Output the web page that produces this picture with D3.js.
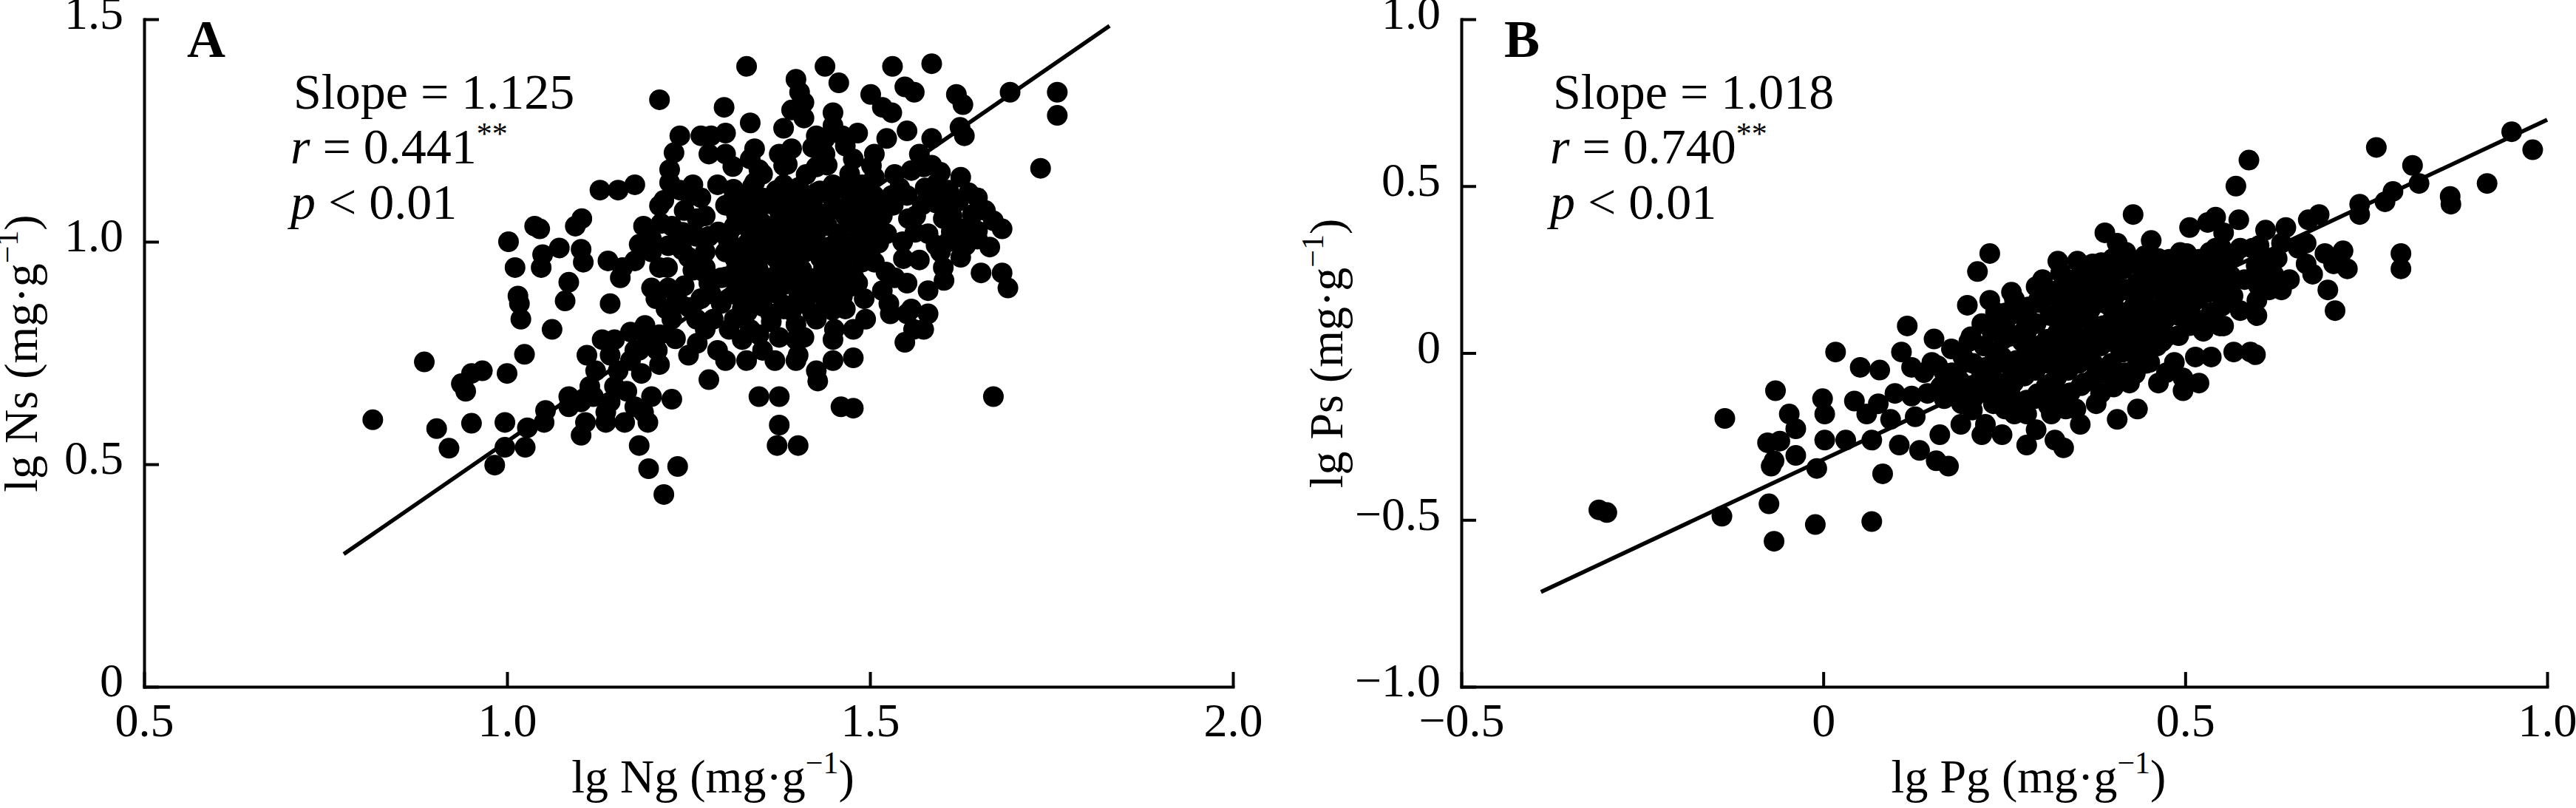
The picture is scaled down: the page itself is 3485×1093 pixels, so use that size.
<!DOCTYPE html>
<html>
<head>
<meta charset="utf-8">
<script src="https://cdn.jsdelivr.net/npm/d3@7"></script>
<style>
  body { margin: 0; background: #fff; }
  text { font-family: "Liberation Serif", "Times New Roman", serif; fill: #000; }
</style>
</head>
<body>
<script>
// Panel A: lg Ng (x) vs lg Ns (y)
const pointsA = [
  [0.815,0.60],[0.886,0.73],[0.903,0.58],[0.920,0.536],[0.937,0.681],[0.943,0.664],[0.951,0.704],[0.966,0.71],
  [0.951,0.592],[0.983,0.498],[0.997,0.594],[0.997,0.538],[1.000,0.704],[1.002,1.000],[1.011,0.942],[1.015,0.878],
  [1.017,0.861],[1.019,0.826],[1.024,0.747],[1.025,0.538],[1.028,0.582],[1.038,1.035],[1.045,1.029],[1.049,0.971],
  [1.047,0.942],[1.051,0.594],[1.053,0.621],[1.062,0.803],[1.072,0.986],[1.080,0.867],[1.085,0.909],[1.085,0.629],
  [1.094,1.035],[1.103,1.052],[1.102,0.983],[1.105,0.954],[1.102,0.565],[1.108,0.594],[1.110,0.745],[1.114,0.675],
  [1.122,0.710],[1.128,1.116],[1.136,0.594],[1.139,0.957],[1.142,0.861],[1.131,0.780],[1.142,0.745],[1.148,0.675],
  [1.153,1.116],[1.159,0.942],[1.156,0.919],[1.162,0.594],[1.170,0.733],[1.176,0.756],[1.170,0.797],[1.176,1.128],
  [1.182,0.542],[1.185,0.704],[1.188,1.035],[1.190,0.812],[1.194,0.594],[1.195,0.490],[1.199,0.652],[1.207,0.756],
  [1.210,1.319],[1.210,0.724],[1.216,0.432],[1.219,0.849],[1.224,1.162],[1.224,1.133],[1.227,0.646],[1.230,1.200],
  [1.235,0.495],[1.238,1.238],[1.244,1.070],[1.250,0.745],[1.256,1.128],[1.267,1.238],[1.273,0.942],[1.278,0.690],
  [1.281,1.238],[1.290,1.128],[1.299,1.302],[1.301,1.197],[1.306,0.803],[1.311,1.169],[1.330,1.394],[1.335,1.267],
  [1.341,1.209],[1.341,1.133],[1.347,0.652],[1.352,0.756],[1.375,0.652],[1.375,0.588],[1.372,0.542],[1.401,0.542],
  [1.398,1.365],[1.403,1.336],[1.409,1.313],[1.392,1.296],[1.438,1.394],[1.457,1.357],[1.426,1.238],[1.449,1.261],
  [1.501,1.331],[1.517,1.302],[1.531,1.394],[1.530,1.290],[1.548,1.348],[1.561,1.336],[1.585,1.400],[1.619,1.331],
  [1.628,1.308],[1.693,1.336],[1.758,1.336],[1.758,1.284],[1.735,1.165],[1.670,0.652],[1.653,0.930],[1.682,0.930],
  [1.690,0.896],[1.682,1.029],[1.665,0.988],[1.624,1.257],[1.630,1.238],[1.602,0.913],[1.580,0.838],[1.574,0.803],
  [1.557,0.849],[1.548,0.774],[1.560,0.803],[1.526,0.861],[1.506,0.954],[1.492,0.872],[1.477,0.803],[1.477,0.739],
  [1.460,0.629],[1.477,0.626],[1.451,0.803],[1.426,0.710],[1.428,0.687],[1.401,0.745],[1.398,0.733],[1.375,0.785],
  [1.409,0.785],[1.483,1.087],[1.534,1.151],[1.551,1.249],[1.585,1.232],[1.591,1.087],[1.597,1.156],[1.608,1.116],
  [1.625,1.145],[1.636,1.110],[1.648,1.099],[1.659,1.070],[1.670,1.047],[1.648,1.006],[1.625,0.965],[1.597,0.977],
  [1.580,1.018],[1.563,1.058],[1.551,1.104],[1.545,1.000],[1.517,1.058],[1.534,0.919],[1.551,0.907],[1.580,0.890],
  [1.517,0.890],[1.506,1.018],[1.494,1.058],[1.477,1.186],[1.466,1.215],[1.483,1.244],[1.506,1.197],[1.523,1.232],
  [1.568,1.197],[1.574,1.168],[1.449,1.290],[1.438,1.232],[1.392,1.209],[1.386,1.174],[1.426,1.168],[1.381,1.128],
  [1.358,1.093],[1.426,1.110],[1.449,1.128],[1.460,1.070],[1.438,1.052],[1.409,1.035],[1.386,1.012],[1.358,1.035],
  [1.341,1.012],[1.324,1.058],[1.313,1.104],[1.313,1.035],[1.301,0.977],[1.295,0.919],[1.318,0.942],[1.347,0.965],
  [1.375,0.959],[1.398,0.977],[1.420,0.988],[1.443,0.988],[1.460,0.965],[1.477,1.000],[1.489,0.954],[1.454,0.919],
  [1.432,0.913],[1.409,0.913],[1.386,0.907],[1.364,0.913],[1.341,0.896],[1.318,0.884],[1.295,0.861],[1.324,0.849],
  [1.352,0.855],[1.381,0.849],[1.409,0.861],[1.438,0.872],[1.460,0.878],[1.426,0.826],[1.398,0.814],[1.364,0.820],
  [1.335,0.803],[1.313,0.826],[1.284,0.826],[1.267,0.872],[1.273,0.803],[1.290,0.756],[1.301,0.733],[1.324,0.780],
  [1.330,0.733],[1.261,0.826],[1.244,0.901],[1.238,0.861],[1.222,0.896],[1.210,0.942],[1.233,1.000],[1.227,1.035],
  [1.210,1.081],[1.199,1.006],[1.182,0.994],[1.176,0.957],[1.199,0.977],[1.216,1.093],[1.238,1.116],[1.267,1.099],
  [1.273,1.058],[1.278,1.012],[1.261,1.012],[1.250,0.965],[1.273,0.977],[1.256,0.936],[1.278,0.907],[1.199,0.896],
  [1.205,0.872],[1.227,0.826],[1.188,0.797],[1.199,0.780],[1.182,0.756],[1.210,0.791],[1.153,0.710],[1.165,0.664],
  [1.142,0.640],[1.119,0.652],[1.102,0.640],[1.085,0.652],[1.176,0.629],[1.188,0.617],[1.136,0.617],[1.148,0.780],
  [1.278,1.197],[1.301,1.244],[1.347,1.162],[1.335,1.186],[1.375,1.197],[1.381,1.255],[1.409,1.278],[1.438,1.197],
  [1.392,1.081],[1.409,1.070],[1.489,1.128],[1.506,1.145],[1.530,1.104],[1.523,1.018],[1.568,0.959],[1.608,1.000],
  [1.630,1.029],[1.613,1.058],[1.551,0.838],[1.528,0.838],[1.494,0.826],[1.466,0.849],[1.483,0.907],[1.449,0.733],
  [1.449,0.780],[1.398,0.780],[1.369,0.733],[1.347,0.791],[1.585,1.172],[1.557,1.160],
  // dense core
  [1.312,1.118],[1.338,1.124],[1.371,1.115],[1.402,1.122],[1.431,1.114],[1.462,1.121],[1.493,1.112],
  [1.301,1.082],[1.333,1.076],[1.362,1.085],[1.391,1.079],[1.421,1.083],[1.452,1.077],[1.478,1.085],[1.511,1.079],
  [1.322,1.041],[1.349,1.046],[1.383,1.038],[1.412,1.044],[1.441,1.036],[1.472,1.043],[1.503,1.038],
  [1.305,1.002],[1.331,0.996],[1.364,1.004],[1.393,0.998],[1.418,1.003],[1.452,0.995],[1.483,1.002],[1.512,0.997],
  [1.314,0.962],[1.342,0.957],[1.369,0.965],[1.401,0.958],[1.432,0.963],[1.458,0.956],[1.492,0.962],
  [1.302,0.921],[1.333,0.926],[1.362,0.918],[1.392,0.924],[1.421,0.917],[1.451,0.925],[1.478,0.919],
  [1.313,0.882],[1.342,0.876],[1.371,0.884],[1.402,0.878],[1.433,0.883],[1.462,0.877],
  [1.331,0.842],[1.363,0.838],[1.392,0.845],[1.421,0.839],[1.448,0.846],
  [1.541,1.121],[1.572,1.083],[1.601,1.052],[1.622,1.091],[1.648,1.024],[1.592,1.131],[1.553,1.052],[1.632,0.992],
  [1.212,1.041],[1.241,0.982],[1.262,1.052],[1.221,0.942],[1.281,0.883],[1.252,1.103],[1.291,1.022],[1.232,0.862],
  [1.326,1.101],[1.354,1.098],[1.386,1.103],[1.414,1.097],[1.446,1.102],[1.474,1.098],[1.506,1.103],
  [1.316,1.061],[1.344,1.058],[1.376,1.063],[1.404,1.057],[1.436,1.062],[1.466,1.058],[1.496,1.063],
  [1.306,1.021],[1.336,1.018],[1.366,1.023],[1.394,1.017],[1.426,1.022],[1.456,1.018],[1.486,1.023],
  [1.321,0.981],[1.351,0.978],[1.381,0.983],[1.411,0.977],[1.441,0.982],[1.471,0.978],[1.501,0.983],
  [1.316,0.941],[1.346,0.938],[1.376,0.943],[1.406,0.937],[1.436,0.942],[1.466,0.938],
  [1.321,0.901],[1.351,0.898],[1.381,0.903],[1.411,0.897],[1.441,0.902],[1.471,0.898],
  [1.351,0.861],[1.381,0.858],[1.411,0.863],[1.441,0.857],
  [1.562,1.021],[1.591,0.992],[1.612,1.023],[1.641,1.061],[1.576,1.121],[1.606,1.092],[1.532,1.082],[1.546,0.962],
  [1.522,0.932],[1.601,0.942],[1.251,0.852],[1.272,0.931],[1.242,1.021],[1.222,0.991],[1.262,0.772],[1.232,0.782],
  [1.352,1.152],[1.381,1.171],[1.412,1.151],[1.441,1.172],[1.472,1.152],[1.502,1.171],[1.421,1.212],[1.462,1.238]
];
const fitA = [[0.775, 0.298], [1.83, 1.485]];
const xTicksA = [0.5, 1.0, 1.5, 2.0];
const xLabelsA = ["0.5", "1.0", "1.5", "2.0"];
const yTicksA = [0, 0.5, 1.0, 1.5];
const yLabelsA = ["0", "0.5", "1.0", "1.5"];

// Panel B: lg Pg (x) vs lg Ps (y)
const pointsB = [
  [-0.310,-0.470],[-0.299,-0.478],[-0.136,-0.196],[-0.140,-0.489],[-0.075,-0.452],[-0.068,-0.564],[-0.011,-0.514],[0.067,-0.505],
  [-0.066,-0.113],[-0.077,-0.269],[-0.072,-0.339],[-0.068,-0.323],[-0.060,-0.264],[-0.047,-0.183],[-0.038,-0.227],[-0.038,-0.307],
  [-0.009,-0.346],[-0.001,-0.137],[0.002,-0.183],[0.002,-0.261],[0.017,0.003],[0.031,-0.261],[0.043,-0.144],[0.051,-0.043],
  [0.067,-0.261],[0.076,-0.152],[0.078,-0.051],[0.082,-0.362],[0.093,-0.199],[0.105,-0.276],[0.108,0.003],[0.116,0.081],
  [0.122,-0.129],[0.127,-0.191],[0.133,-0.292],[0.139,-0.059],[0.150,-0.028],[0.153,0.042],[0.156,-0.323],[0.161,-0.245],
  [0.167,-0.137],[0.173,-0.339],[0.178,-0.059],[0.190,-0.214],[0.199,0.143],[0.201,0.034],[0.207,-0.137],[0.213,0.244],
  [0.219,-0.245],[0.224,-0.043],[0.230,0.298],[0.230,0.158],[0.233,0.065],[0.235,-0.152],[0.241,-0.090],[0.247,-0.012],
  [0.252,0.120],[0.260,0.182],[0.264,-0.183],[0.269,-0.059],[0.275,0.034],[0.281,-0.276],[0.286,0.096],[0.292,-0.137],
  [0.294,-0.230],[0.297,0.158],[0.303,0.220],[0.309,0.003],[0.315,-0.090],[0.320,-0.261],[0.324,0.275],[0.326,0.096],
  [0.332,-0.284],[0.335,-0.168],[0.338,-0.028],[0.344,0.189],[0.349,0.050],[0.351,0.275],[0.355,-0.214],[0.358,0.205],
  [0.360,-0.090],[0.366,0.112],[0.372,-0.028],[0.377,-0.152],[0.383,0.050],[0.389,0.360],[0.392,0.189],[0.394,-0.059],
  [0.400,0.283],[0.403,0.112],[0.406,-0.199],[0.411,0.003],[0.417,0.189],[0.423,-0.090],[0.428,0.415],[0.431,0.065],
  [0.434,-0.168],[0.440,0.252],[0.445,0.127],[0.451,-0.028],[0.453,0.337],[0.457,0.220],[0.463,-0.090],[0.468,0.034],
  [0.472,0.158],[0.480,0.252],[0.485,-0.028],[0.491,0.112],[0.497,-0.113],[0.502,0.298],[0.506,0.376],[0.508,0.189],
  [0.514,-0.012],[0.519,0.236],[0.525,0.065],[0.531,0.391],[0.536,0.283],[0.536,-0.012],[0.542,0.407],[0.548,0.081],
  [0.553,0.189],[0.559,0.283],[0.567,0.003],[0.570,0.500],[0.574,0.399],[0.576,0.127],[0.582,0.220],[0.588,0.578],
  [0.590,0.003],[0.597,-0.005],[0.593,0.314],[0.599,0.158],[0.605,0.252],[0.611,0.368],[0.616,0.189],[0.627,0.283],
  [0.633,0.329],[0.639,0.376],[0.644,0.220],[0.656,0.314],[0.667,0.267],[0.670,0.399],[0.676,0.236],[0.685,0.415],
  [0.693,0.298],[0.697,0.189],[0.705,0.267],[0.707,0.127],[0.718,0.306],[0.724,0.252],[0.741,0.446],[0.741,0.415],
  [0.764,0.616],[0.776,0.453],[0.787,0.484],[0.798,0.298],[0.798,0.252],[0.814,0.562],[0.823,0.508],[0.866,0.469],
  [0.867,0.446],[0.917,0.508],[0.951,0.663],[0.980,0.609],[0.553,0.081],[0.372,0.267],[0.394,0.143],[0.349,0.127],
  [0.320,0.050],[0.303,-0.028],[0.281,0.065],[0.258,0.050],[0.235,-0.028],[0.213,-0.090],[0.190,-0.121],[0.167,-0.059],
  [0.196,-0.028],[0.326,-0.121],[0.349,-0.168],[0.383,-0.121],[0.417,-0.059],[0.440,0.003],[0.463,0.096],[0.485,0.189],
  [0.394,0.034],[0.366,0.003],[0.338,0.127],[0.417,0.096],[0.445,0.050],[0.474,-0.059],[0.434,-0.028],[0.258,-0.121],
  [0.281,-0.183],[0.315,-0.183],[0.224,-0.214],[0.247,-0.245],[0.144,-0.121],[0.122,-0.043],[0.099,-0.121],[0.060,-0.183],
  [0.508,0.143],[0.531,0.189],[0.564,0.220],[0.542,0.314],[0.576,0.314],[0.611,0.283],[0.463,0.283],[0.440,0.174],
  [0.383,0.220],[0.406,0.329],[0.553,0.360],[0.622,0.236],[0.667,0.329],[0.633,0.189],[0.599,0.112],[0.519,-0.090],
  [0.497,-0.075],
  // dense core
  [0.162,-0.101],[0.158,-0.038],[0.191,-0.152],[0.188,-0.082],[0.193,-0.012],
  [0.221,-0.118],[0.218,-0.052],[0.222,0.021],[0.219,0.088],
  [0.251,-0.168],[0.248,-0.102],[0.252,-0.031],[0.249,0.042],[0.253,0.101],
  [0.281,-0.141],[0.278,-0.069],[0.282,0.002],[0.279,0.071],[0.283,0.138],
  [0.311,-0.158],[0.308,-0.099],[0.312,-0.032],[0.309,0.041],[0.313,0.112],[0.309,0.171],
  [0.341,-0.119],[0.338,-0.052],[0.342,0.021],[0.339,0.082],[0.343,0.148],[0.339,0.219],
  [0.371,-0.081],[0.368,-0.012],[0.372,0.058],[0.369,0.131],[0.373,0.188],[0.369,0.241],
  [0.401,-0.102],[0.398,-0.031],[0.402,0.041],[0.399,0.098],[0.403,0.172],[0.399,0.228],
  [0.431,-0.062],[0.428,0.012],[0.432,0.081],[0.429,0.139],[0.433,0.208],[0.429,0.268],
  [0.461,0.021],[0.458,0.072],[0.462,0.131],[0.459,0.192],[0.463,0.248],
  [0.491,0.052],[0.488,0.118],[0.492,0.181],[0.489,0.238],[0.493,0.301],
  [0.521,0.098],[0.518,0.162],[0.522,0.219],[0.519,0.281],
  [0.551,0.141],[0.548,0.198],[0.552,0.262],[0.549,0.318],
  [0.176,-0.121],[0.173,-0.062],[0.177,0.012],
  [0.206,-0.171],[0.203,-0.098],[0.207,-0.031],[0.204,0.049],
  [0.236,-0.132],[0.233,-0.071],[0.237,0.002],[0.234,0.071],[0.238,0.122],
  [0.266,-0.151],[0.263,-0.088],[0.267,-0.022],[0.264,0.052],[0.268,0.118],[0.264,0.161],
  [0.296,-0.122],[0.293,-0.052],[0.297,0.021],[0.294,0.088],[0.298,0.151],[0.294,0.199],
  [0.326,-0.142],[0.323,-0.071],[0.327,0.002],[0.324,0.062],[0.328,0.131],[0.324,0.188],[0.328,0.241],
  [0.356,-0.098],[0.353,-0.031],[0.357,0.042],[0.354,0.101],[0.358,0.168],[0.354,0.229],
  [0.386,-0.061],[0.383,0.021],[0.387,0.082],[0.384,0.151],[0.388,0.211],[0.384,0.271],
  [0.416,-0.082],[0.413,0.002],[0.417,0.061],[0.414,0.121],[0.418,0.191],[0.414,0.251],[0.418,0.302],
  [0.446,-0.031],[0.443,0.041],[0.447,0.102],[0.444,0.171],[0.448,0.229],[0.444,0.291],
  [0.476,0.051],[0.473,0.102],[0.477,0.162],[0.474,0.221],[0.478,0.281],
  [0.506,0.082],[0.503,0.141],[0.507,0.202],[0.504,0.262],
  [0.536,0.121],[0.533,0.182],[0.537,0.241],[0.534,0.302],
  [0.566,0.171],[0.563,0.231],[0.567,0.291],
  [0.601,0.202],[0.598,0.262],[0.602,0.322]
];
const fitB = [[-0.39, -0.716], [1.0, 0.699]];
const xTicksB = [-0.5, 0, 0.5, 1.0];
const xLabelsB = ["\u22120.5", "0", "0.5", "1.0"];
const yTicksB = [-1.0, -0.5, 0, 0.5, 1.0];
const yLabelsB = ["\u22121.0", "\u22120.5", "0", "0.5", "1.0"];

const W = 3485, H = 1093;
const plotTop = 26, plotBottom = 929;

const svg = d3.select("body").append("svg")
    .attr("width", W)
    .attr("height", H);

function addSup(text, main, sup, after) {
    text.append("tspan").text(main);
    text.append("tspan").attr("dy", -26).attr("font-size", 42).text(sup);
    if (after) text.append("tspan").attr("dy", 26).attr("font-size", 64).text(after);
}

function drawPanel(p) {
    const g = svg.append("g");
    const x = d3.scaleLinear().domain(p.xDomain).range(p.xRange);
    const y = d3.scaleLinear().domain(p.yDomain).range([plotBottom, plotTop]);

    // points
    g.append("g")
        .selectAll("circle")
        .data(p.points)
        .join("circle")
        .attr("cx", d => x(d[0]))
        .attr("cy", d => y(d[1]))
        .attr("r", 14)
        .attr("fill", "#000");

    // regression line
    g.append("line")
        .attr("x1", x(p.fit[0][0])).attr("y1", y(p.fit[0][1]))
        .attr("x2", x(p.fit[1][0])).attr("y2", y(p.fit[1][1]))
        .attr("stroke", "#000")
        .attr("stroke-width", 5.5);

    // axes, ticks pointing inward
    const xAxis = d3.axisBottom(x)
        .tickValues(p.xTicks)
        .tickFormat((d, i) => p.xLabels[i])
        .tickSizeInner(-20).tickSizeOuter(0).tickPadding(22);
    const yAxis = d3.axisLeft(y)
        .tickValues(p.yTicks)
        .tickFormat((d, i) => p.yLabels[i])
        .tickSizeInner(-20).tickSizeOuter(0).tickPadding(28);

    const gx = g.append("g").attr("transform", `translate(0,${plotBottom})`).call(xAxis);
    const gy = g.append("g").attr("transform", `translate(${p.xRange[0]},0)`).call(yAxis);
    [gx, gy].forEach(a => {
        a.attr("font-family", null).attr("font-size", 64);
        a.select(".domain").attr("stroke-width", 4).attr("stroke-linecap", "square");
        a.selectAll(".tick line").attr("stroke-width", 4);
    });
    gy.selectAll(".tick text").attr("dy", "0.2em");

    // panel letter
    g.append("text")
        .attr("x", p.xRange[0] + 58).attr("y", 77)
        .attr("font-size", 72).attr("font-weight", "bold")
        .text(p.letter);

    // statistics
    const sx = p.xRange[0] + p.statDx;
    g.append("text").attr("x", sx + 4).attr("y", 147).attr("font-size", 68).text(p.slope);
    const rt = g.append("text").attr("x", sx).attr("y", 221).attr("font-size", 68);
    rt.append("tspan").attr("font-style", "italic").text("r");
    rt.append("tspan").text(" = " + p.r);
    rt.append("tspan").attr("dy", -26).attr("font-size", 42).text("**");
    const pt = g.append("text").attr("x", sx).attr("y", 296).attr("font-size", 68);
    pt.append("tspan").attr("font-style", "italic").text("p");
    pt.append("tspan").text(" < 0.01");

    // axis titles
    const xt = g.append("text")
        .attr("x", (p.xRange[0] + p.xRange[1]) / 2 + 33)
        .attr("y", 1072)
        .attr("text-anchor", "middle")
        .attr("font-size", 64);
    addSup(xt, p.xTitle + " (mg\u00b7g", "\u22121", ")");

    const yt = g.append("text")
        .attr("transform", `translate(${p.yTitleX},478) rotate(-90)`)
        .attr("text-anchor", "middle")
        .attr("font-size", 64);
    addSup(yt, p.yTitle + " (mg\u00b7g", "\u22121", ")");
}

drawPanel({
    points: pointsA, fit: fitA,
    xDomain: [0.5, 2.0], xRange: [195, 1668], yDomain: [0, 1.5],
    xTicks: xTicksA, xLabels: xLabelsA, yTicks: yTicksA, yLabels: yLabelsA,
    letter: "A", statDx: 198, slope: "Slope = 1.125", r: "0.441",
    xTitle: "lg Ng", yTitle: "lg Ns", yTitleX: 50
});

drawPanel({
    points: pointsB, fit: fitB,
    xDomain: [-0.5, 1.0], xRange: [1977, 3446], yDomain: [-1.0, 1.0],
    xTicks: xTicksB, xLabels: xLabelsB, yTicks: yTicksB, yLabels: yLabelsB,
    letter: "B", statDx: 120, slope: "Slope = 1.018", r: "0.740",
    xTitle: "lg Pg", yTitle: "lg Ps", yTitleX: 1816
});
</script>
</body>
</html>
